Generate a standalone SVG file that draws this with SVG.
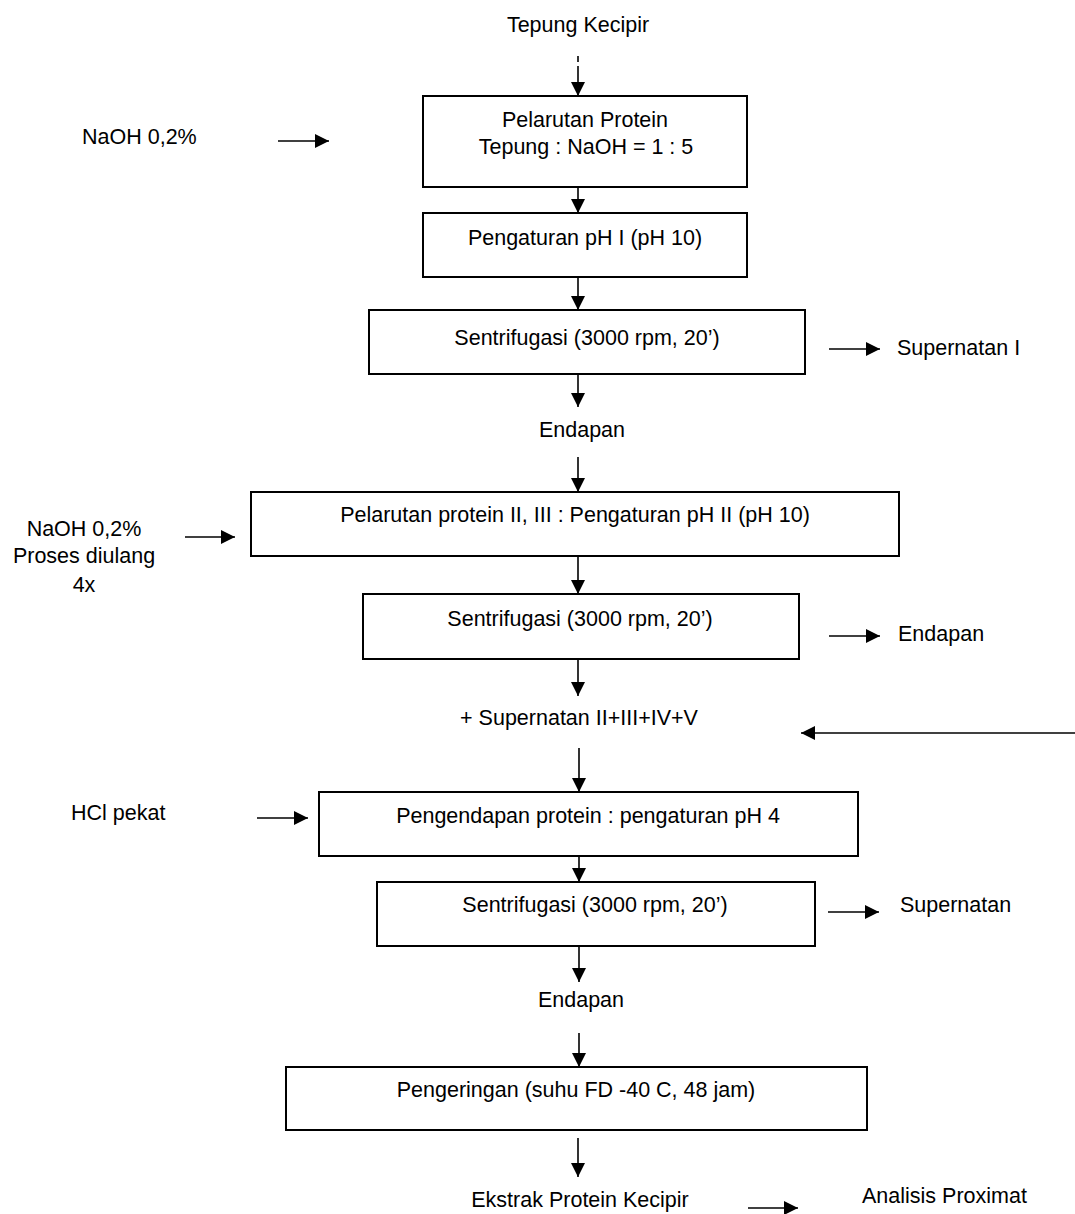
<svg xmlns="http://www.w3.org/2000/svg" width="1075" height="1214" viewBox="0 0 1075 1214">
<style>
  text { font-family: "Liberation Sans", Arial, sans-serif; font-size: 21.5px; fill: #000; }
  .c { text-anchor: middle; }
  .box { fill: #fff; stroke: #000; stroke-width: 2; }
  .ln { stroke: #000; stroke-width: 1.6; fill: none; marker-end: url(#ah); }
</style>
<defs>
  <marker id="ah" markerUnits="userSpaceOnUse" markerWidth="14" markerHeight="14" viewBox="0 0 14 14" refX="14" refY="7" orient="auto">
    <path d="M0,0 L14,7 L0,14 z" fill="#000"/>
  </marker>
</defs>
<rect width="1075" height="1214" fill="#fff"/>

<g id="connectors">
  <line x1="578" y1="56" x2="578" y2="62" stroke="#000" stroke-width="1.6"/>
  <line class="ln" x1="578" y1="66" x2="578" y2="96"/>
  <line class="ln" x1="578" y1="187" x2="578" y2="213"/>
  <line class="ln" x1="578" y1="277" x2="578" y2="310"/>
  <line class="ln" x1="578" y1="374" x2="578" y2="407"/>
  <line class="ln" x1="578" y1="457" x2="578" y2="492"/>
  <line class="ln" x1="578" y1="556" x2="578" y2="594"/>
  <line class="ln" x1="578" y1="659" x2="578" y2="696"/>
  <line class="ln" x1="579" y1="748" x2="579" y2="792"/>
  <line class="ln" x1="579" y1="856" x2="579" y2="882"/>
  <line class="ln" x1="579" y1="946" x2="579" y2="982"/>
  <line class="ln" x1="579" y1="1033" x2="579" y2="1067"/>
  <line class="ln" x1="578" y1="1138" x2="578" y2="1177"/>

  <line class="ln" x1="278" y1="141" x2="329" y2="141"/>
  <line class="ln" x1="829" y1="349" x2="880" y2="349"/>
  <line class="ln" x1="185" y1="537" x2="235" y2="537"/>
  <line class="ln" x1="829" y1="636" x2="880" y2="636"/>
  <line class="ln" x1="1075" y1="733" x2="801" y2="733"/>
  <line class="ln" x1="257" y1="818" x2="308" y2="818"/>
  <line class="ln" x1="828" y1="912" x2="879" y2="912"/>
  <line class="ln" x1="748" y1="1208" x2="798" y2="1208"/>
</g>

<g id="start"><text class="c" x="578" y="32">Tepung Kecipir</text></g>
<g id="naoh1"><text x="82" y="144">NaOH 0,2%</text></g>

<g id="n1">
  <rect class="box" x="423" y="96" width="324" height="91"/>
  <text class="c" x="585" y="127">Pelarutan Protein</text>
  <text class="c" x="586" y="154">Tepung : NaOH = 1 : 5</text>
</g>
<g id="n2">
  <rect class="box" x="423" y="213" width="324" height="64"/>
  <text class="c" x="585" y="245">Pengaturan pH I (pH 10)</text>
</g>
<g id="n3">
  <rect class="box" x="369" y="310" width="436" height="64"/>
  <text class="c" x="587" y="345">Sentrifugasi (3000 rpm, 20’)</text>
</g>
<g id="sup1"><text x="897" y="355">Supernatan I</text></g>
<g id="endapan1"><text class="c" x="582" y="437">Endapan</text></g>

<g id="naoh2">
  <text class="c" x="84" y="536">NaOH 0,2%</text>
  <text class="c" x="84" y="563">Proses diulang</text>
  <text class="c" x="84" y="592">4x</text>
</g>
<g id="n4">
  <rect class="box" x="251" y="492" width="648" height="64"/>
  <text class="c" x="575" y="522">Pelarutan protein II, III : Pengaturan pH II (pH 10)</text>
</g>
<g id="n5">
  <rect class="box" x="363" y="594" width="436" height="65"/>
  <text class="c" x="580" y="626">Sentrifugasi (3000 rpm, 20’)</text>
</g>
<g id="endapan2"><text x="898" y="641">Endapan</text></g>
<g id="supmix"><text class="c" x="579" y="725">+ Supernatan II+III+IV+V</text></g>

<g id="hcl"><text x="71" y="820">HCl pekat</text></g>
<g id="n6">
  <rect class="box" x="319" y="792" width="539" height="64"/>
  <text class="c" x="588" y="823">Pengendapan protein : pengaturan pH 4</text>
</g>
<g id="n7">
  <rect class="box" x="377" y="882" width="438" height="64"/>
  <text class="c" x="595" y="912">Sentrifugasi (3000 rpm, 20’)</text>
</g>
<g id="sup2"><text x="900" y="912">Supernatan</text></g>
<g id="endapan3"><text class="c" x="581" y="1007">Endapan</text></g>
<g id="n8">
  <rect class="box" x="286" y="1067" width="581" height="63"/>
  <text class="c" x="576" y="1097">Pengeringan (suhu FD -40 C, 48 jam)</text>
</g>
<g id="end"><text class="c" x="580" y="1207">Ekstrak Protein Kecipir</text></g>
<g id="analisis"><text x="862" y="1203">Analisis Proximat</text></g>
</svg>
